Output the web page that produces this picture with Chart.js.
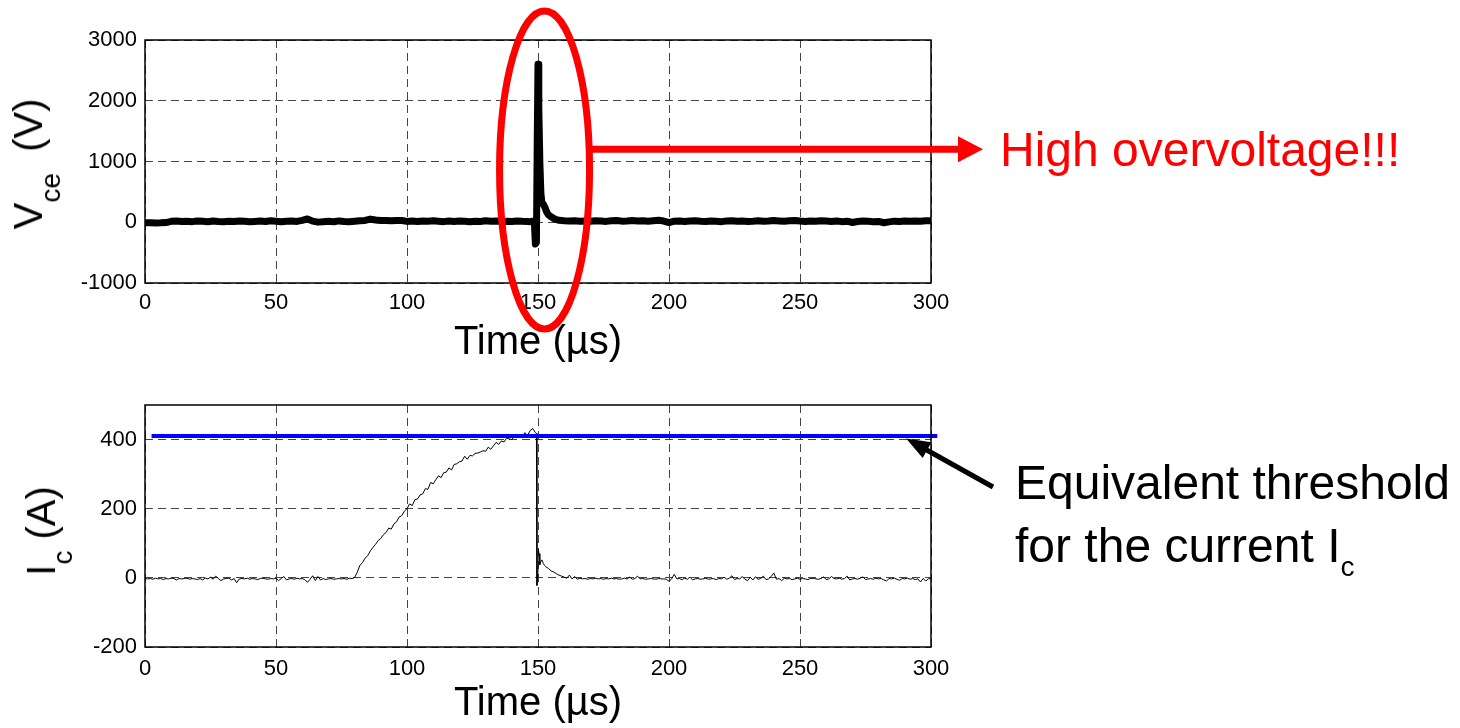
<!DOCTYPE html>
<html>
<head>
<meta charset="utf-8">
<script src="https://cdn.jsdelivr.net/npm/chart.js@4.4.1/dist/chart.umd.min.js"></script>
<style>
  body { margin: 0; background: #fff; }
  #page { position: relative; width: 1460px; height: 728px; overflow: hidden; font-family: "Liberation Sans", Arial, sans-serif; }
  canvas { position: absolute; left: 0; }
  .note { position: absolute; white-space: nowrap; font-size: 48px; line-height: 48px; }
  .ytitle { position: absolute; white-space: nowrap; font-size: 40px; line-height: 40px; transform: translate(-50%, -50%) rotate(-90deg); }
  sub { font-size: 28px; line-height: 0; vertical-align: baseline; position: relative; }
</style>
</head>
<body>
<div id="page">
  <canvas id="vceChart" width="1460" height="364" style="top:0"></canvas>
  <canvas id="icChart" width="1460" height="364" style="top:364px"></canvas>
  <div class="ytitle" style="left:28px; top:164px">V<sub style="top:18px; margin-right:10px">ce</sub> (V)</div>
  <div class="ytitle" style="left:41px; top:531px">I<sub style="top:17px">c</sub> (A)</div>
  <div class="note" style="left:1000px; top:126px; color:#ff0000">High overvoltage!!!</div>
  <div class="note" style="left:1015px; top:459px">Equivalent threshold</div>
  <div class="note" style="left:1015px; top:522px">for the current I<sub style="top:14px">c</sub></div>
</div>
<script>
const xTicks = [0, 50, 100, 150, 200, 250, 300];
const vceTicks = [-1000, 0, 1000, 2000, 3000];
const icTicks = [-200, 0, 200, 400];

// collector-emitter voltage, V
const vceTime = [
  0, 2, 4, 6, 8, 10, 12, 14, 16, 18,
  20, 22, 24, 26, 28, 30, 32, 34, 36, 38,
  40, 42, 44, 46, 48, 50, 52, 54, 56, 58,
  60, 62, 64, 66, 68, 70, 72, 74, 76, 78,
  80, 82, 84, 86, 88, 90, 92, 94, 96, 98,
  100, 102, 104, 106, 108, 110, 112, 114, 116, 118,
  120, 122, 124, 126, 128, 130, 132, 134, 136, 138,
  140, 142, 144, 146, 147, 148, 148.6, 149, 149.4, 149.7,
  150, 150.3, 150.7, 151.1, 151.5, 152, 152.6, 153.3, 154, 155,
  156, 157, 158, 160, 162, 164, 166, 168, 170, 172,
  174, 176, 178, 180, 182, 184, 186, 188, 190, 192,
  194, 196, 198, 200, 202, 204, 206, 208, 210, 212,
  214, 216, 218, 220, 222, 224, 226, 228, 230, 232,
  234, 236, 238, 240, 242, 244, 246, 248, 250, 252,
  254, 256, 258, 260, 262, 264, 266, 268, 270, 272,
  274, 276, 278, 280, 282, 284, 286, 288, 290, 292,
  294, 296, 298, 300,
];
const vceValues = [
  -8, -10, -12, -10, -5, 15, 20, 12, 18, 10,
  22, 15, 8, 20, 14, 10, 18, 12, 22, 16,
  8, 14, 20, 12, 26, 18, 10, 16, 22, 14,
  30, 55, 18, 2, 10, 16, 8, 22, 14, 10,
  18, 26, 30, 52, 36, 28, 30, 24, 30, 28,
  14, 20, 12, 22, 16, 24, 18, 10, 20, 14,
  22, 16, 8, 18, 12, 24, 16, 20, 10, 18,
  14, 22, 16, 12, 10, 18, 5, -360, -330, 1300,
  2600, 1900, 1000, 480, 320, 300, 250, 170, 120, 90,
  62, 45, 32, 24, 20, 26, 18, 22, 16, 24,
  20, 14, 26, 30, 18, 22, 28, 20, 26, 16,
  24, 32, 20, -6, 18, 22, 14, 20, 26, 16,
  12, 22, 18, 10, 20, 26, 16, 22, 14, 18,
  24, 16, 20, 28, 22, 16, 24, 30, 20, 14,
  22, 18, 26, 20, 14, 22, 10, 18, -4, 12,
  20, 16, 8, 14, -8, 6, 18, 12, 20, 16,
  22, 18, 26, 24,
];

// collector current, A
const icTime = [
  0, 1, 2, 3, 4, 5, 6, 7, 8, 9,
  10, 11, 12, 13, 14, 15, 16, 17, 18, 19,
  20, 21, 22, 23, 24, 25, 26, 27, 28, 29,
  30, 31, 32, 33, 34, 35, 36, 37, 38, 39,
  40, 41, 42, 43, 44, 45, 46, 47, 48, 49,
  50, 51, 52, 53, 54, 55, 56, 57, 58, 59,
  60, 61, 62, 63, 64, 65, 66, 67, 68, 69,
  70, 71, 72, 73, 74, 75, 76, 77, 78, 79,
  80, 81, 82, 83, 84, 85, 86, 87, 88, 89,
  90, 91, 92, 93, 94, 95, 96, 97, 98, 99,
  100, 101, 102, 103, 104, 105, 106, 107, 108, 109,
  110, 111, 112, 113, 114, 115, 116, 117, 118, 119,
  120, 121, 122, 123, 124, 125, 126, 127, 128, 129,
  130, 131, 132, 133, 134, 135, 136, 137, 138, 139,
  140, 141, 142, 143, 144, 145, 146, 147, 148, 149,
  149.4, 149.6, 149.9, 150.1, 150.4, 150.7, 151, 151.5, 152, 152.5,
  153, 154, 155, 156, 157, 158, 159,
  160, 161, 162, 163, 164, 165, 166, 167, 168, 169,
  170, 171, 172, 173, 174, 175, 176, 177, 178, 179,
  180, 181, 182, 183, 184, 185, 186, 187, 188, 189,
  190, 191, 192, 193, 194, 195, 196, 197, 198, 199,
  200, 201, 202, 203, 204, 205, 206, 207, 208, 209,
  210, 211, 212, 213, 214, 215, 216, 217, 218, 219,
  220, 221, 222, 223, 224, 225, 226, 227, 228, 229,
  230, 231, 232, 233, 234, 235, 236, 237, 238, 239,
  240, 241, 242, 243, 244, 245, 246, 247, 248, 249,
  250, 251, 252, 253, 254, 255, 256, 257, 258, 259,
  260, 261, 262, 263, 264, 265, 266, 267, 268, 269,
  270, 271, 272, 273, 274, 275, 276, 277, 278, 279,
  280, 281, 282, 283, 284, 285, 286, 287, 288, 289,
  290, 291, 292, 293, 294, 295, 296, 297, 298, 299,
  300,
];
const icValues = [
  -2, -3, -2, -4, -1, -3, -2, -5, -2, -3,
  -1, -2, -6, -2, -3, -2, -1, -4, -2, -3,
  -5, -2, -6, -1, -3, 2, -4, 5, -2, -8,
  -3, -2, -1, -6, -2, -14, -3, -2, -3, -1,
  -4, -2, -3, -5, -2, -1, -3, -4, -2, -3,
  -1, -8, -2, 4, -6, -3, -2, -4, -1, -3,
  -2, -5, -13, -4, 6, -8, 4, -6, -2, -5,
  -3, -2, -4, -3, -2, -3, -2, -4, -1, -2,
  1, 16, 36, 44, 57, 64, 78, 88, 97, 108,
  114, 125, 131, 144, 141, 156, 162, 176, 180, 193,
  200, 214, 209, 226, 228, 240, 243, 258, 256, 276,
  272, 284, 295, 290, 304, 306, 318, 312, 328, 330,
  336, 338, 352, 343, 354, 353, 360, 361, 364, 368,
  366, 378, 372, 382, 392, 386, 396, 393, 404, 402,
  400, 410, 406, 414, 408, 420, 412, 426, 432, 420,
  418, -22, -6, 82, 70, 38, 46, 52, 42, 36,
  32, 27, 20, 17, 12, 8, 5,
  2, -1, 8, -3, 4, -4, -1, -3, -2, -4,
  -2, -3, -1, -3, -2, -4, -2, -3, -1, -3,
  -2, -4, -3, -1, -3, 2, -4, -2, 5, -3,
  -2, -4, -3, -2, -3, -4, -2, -3, -3, -4,
  -10, -3, 10, -3, -2, -5, -1, -4, 2, -6,
  -3, -2, -4, -3, -1, -4, -3, -2, -5, -2,
  -3, 2, -4, -1, 6, -5, -2, -3, 4, -4,
  -8, 2, -6, 3, -4, -2, 5, -5, -3, 4,
  14, -4, -2, -8, -1, -3, -2, -5, -3, -1,
  -4, -2, -3, -5, -2, -1, -3, -4, -2, 3,
  -5, -3, 4, -2, -3, -1, -4, -2, 5, -6,
  -3, -2, -4, -1, 3, -5, -3, -2, -4, -1,
  -3, -2, -6, -9, -2, -3, -1, -4, -7, -2,
  -3, -1, -4, -2, -5, -3, -12, -2, -9, -3,
  -2,
];

// equivalent threshold for Ic
const thresholdTime = [2.5, 302.4];
const thresholdValues = [410, 410];

const fontFamily = "'Liberation Sans', Arial, sans-serif";

const toPoints = (xs, ys) => xs.map((x, i) => ({ x: x, y: ys[i] }));

const frame = {
  id: "frame",
  afterDraw(chart) {
    const { ctx, chartArea: a } = chart;
    ctx.save();
    ctx.strokeStyle = "#000";
    ctx.lineWidth = 1.5;
    ctx.strokeRect(a.left, a.top, a.right - a.left, a.bottom - a.top);
    ctx.restore();
  },
};

const overvoltageMark = {
  id: "overvoltageMark",
  afterDraw(chart) {
    const { ctx } = chart;
    const xs = chart.scales.x;
    const ys = chart.scales.y;
    const cx = xs.getPixelForValue(152.5);
    const cy = ys.getPixelForValue(860);
    const ay = ys.getPixelForValue(1200);
    ctx.save();
    ctx.strokeStyle = "#ff0000";
    ctx.fillStyle = "#ff0000";
    ctx.lineWidth = 7;
    ctx.beginPath();
    ctx.ellipse(cx, cy, 45, 159, 0, 0, Math.PI * 2);
    ctx.stroke();
    ctx.beginPath();
    ctx.moveTo(cx + 45, ay);
    ctx.lineTo(962, ay);
    ctx.stroke();
    ctx.beginPath();
    ctx.moveTo(958, ay - 13);
    ctx.lineTo(983, ay);
    ctx.lineTo(958, ay + 13);
    ctx.closePath();
    ctx.fill();
    ctx.restore();
  },
};

const thresholdArrow = {
  id: "thresholdArrow",
  afterDraw(chart) {
    const { ctx } = chart;
    const tipX = chart.scales.x.getPixelForValue(290.5);
    const tipY = chart.scales.y.getPixelForValue(403);
    const tailX = 993;
    const tailY = 123;
    const len = Math.hypot(tipX - tailX, tipY - tailY);
    const ux = (tipX - tailX) / len;
    const uy = (tipY - tailY) / len;
    const headLen = 24;
    const headHalf = 9;
    const bx = tipX - ux * headLen;
    const by = tipY - uy * headLen;
    ctx.save();
    ctx.strokeStyle = "#000";
    ctx.fillStyle = "#000";
    ctx.lineWidth = 5;
    ctx.beginPath();
    ctx.moveTo(tailX, tailY);
    ctx.lineTo(bx + ux * 4, by + uy * 4);
    ctx.stroke();
    ctx.beginPath();
    ctx.moveTo(tipX, tipY);
    ctx.lineTo(bx - uy * headHalf, by + ux * headHalf);
    ctx.lineTo(bx + uy * headHalf, by - ux * headHalf);
    ctx.closePath();
    ctx.fill();
    ctx.restore();
  },
};

const makeScales = (yMin, yMax, yTicks, tickPad, titlePad) => ({
  x: {
    type: "linear",
    min: 0,
    max: 300,
    afterFit: (scale) => { scale.height = 81; },
    afterBuildTicks: (scale) => { scale.ticks = xTicks.map((v) => ({ value: v })); },
    grid: { color: "#444", lineWidth: 1, drawTicks: false },
    border: { display: false, dash: [8, 5] },
    ticks: {
      font: { family: fontFamily, size: 22 },
      color: "#000",
      padding: tickPad,
      maxRotation: 0,
      callback: (v) => String(v),
    },
    title: {
      display: true,
      text: "Time (µs)",
      font: { family: fontFamily, size: 40 },
      color: "#000",
      padding: { top: 0, bottom: titlePad },
    },
  },
  y: {
    type: "linear",
    min: yMin,
    max: yMax,
    afterFit: (scale) => { scale.width = 145; },
    afterBuildTicks: (scale) => { scale.ticks = yTicks.map((v) => ({ value: v })); },
    grid: { color: "#444", lineWidth: 1, drawTicks: false },
    border: { display: false, dash: [8, 5] },
    ticks: {
      font: { family: fontFamily, size: 22 },
      color: "#000",
      padding: 8,
      callback: (v) => String(v),
    },
  },
});

const baseOptions = (scales, top) => ({
  responsive: false,
  devicePixelRatio: 1,
  animation: false,
  events: [],
  layout: { padding: { left: 0, right: 529, top: top, bottom: 0 } },
  plugins: { legend: { display: false }, tooltip: { enabled: false } },
  scales: scales,
});

new Chart(document.getElementById("vceChart"), {
  type: "line",
  data: {
    datasets: [
      {
        label: "Vce",
        data: toPoints(vceTime, vceValues),
        borderColor: "#000",
        borderWidth: 7,
        borderJoinStyle: "round",
        borderCapStyle: "round",
        pointRadius: 0,
        tension: 0,
      },
    ],
  },
  options: baseOptions(makeScales(-1000, 3000, vceTicks, 7, -3), 40),
  plugins: [frame, overvoltageMark],
});

new Chart(document.getElementById("icChart"), {
  type: "line",
  data: {
    datasets: [
      {
        label: "Threshold",
        data: toPoints(thresholdTime, thresholdValues),
        borderColor: "#0000ff",
        borderWidth: 4,
        pointRadius: 0,
        clip: false,
      },
      {
        label: "Ic",
        data: toPoints(icTime, icValues),
        borderColor: "#000",
        borderWidth: 1,
        pointRadius: 0,
        tension: 0,
      },
    ],
  },
  options: baseOptions(makeScales(-200, 500, icTicks, 9, 0), 41),
  plugins: [frame, thresholdArrow],
});
</script>
</body>
</html>
